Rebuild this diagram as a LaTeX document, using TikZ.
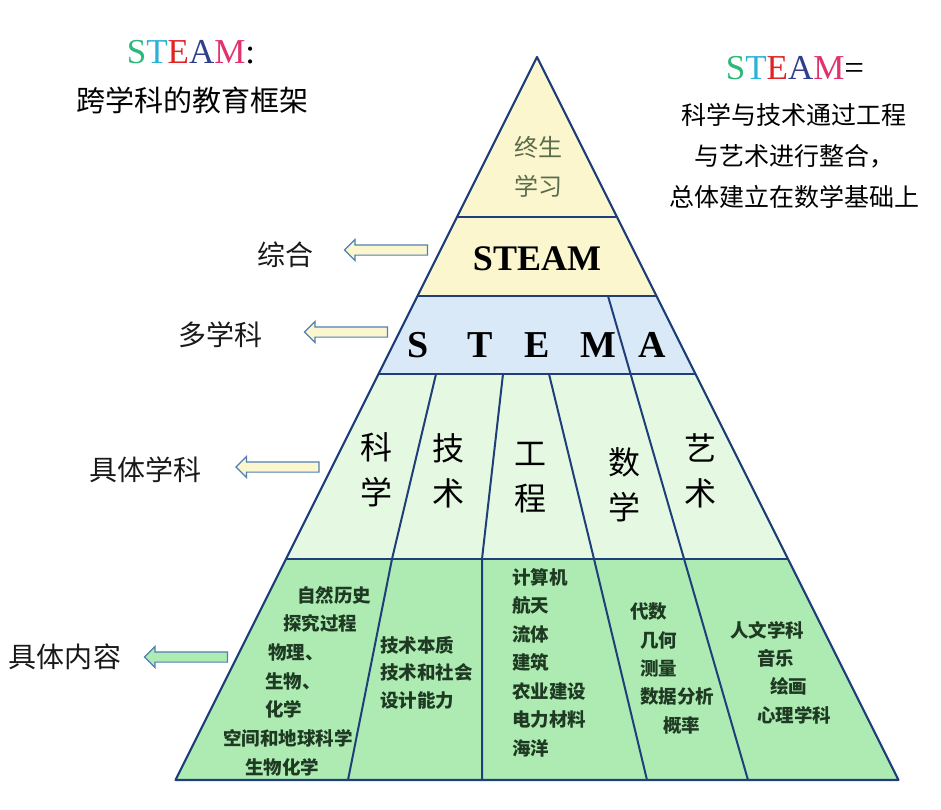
\documentclass[tikz,border=0pt]{standalone}
\usepackage{fontspec}
\setmainfont{Liberation Serif}
\newfontfamily\cjk{Noto Sans CJK SC}
\usetikzlibrary{positioning,shapes.arrows}
\definecolor{rim}{HTML}{1F3F7A}
\definecolor{cream}{HTML}{FBF6CE}
\definecolor{skyband}{HTML}{DAE9F8}
\definecolor{paleleaf}{HTML}{E5F8E1}
\definecolor{leaf}{HTML}{AEEBB3}
\definecolor{arrowrim}{HTML}{4F7FB5}
\definecolor{leaftext}{HTML}{1E3A22}
\definecolor{olivetext}{HTML}{5B6B4E}
\definecolor{cS}{HTML}{2DB87A}
\definecolor{cT}{HTML}{2BB3D6}
\definecolor{cE}{HTML}{E02424}
\definecolor{cA}{HTML}{2F3F8E}
\definecolor{cM}{HTML}{E2326E}
\newcommand{\steamword}{\textcolor{cS}{S}\textcolor{cT}{T}\textcolor{cE}{E}\textcolor{cA}{A}\textcolor{cM}{M}}
\tikzset{
    layer/.style={
           draw=rim,
           line width=2.2pt,
           line join=round},
    divide/.style={
           draw=rim,
           line width=2pt},
    pil/.style={
           single arrow,
           shape border rotate=180,
           draw=arrowrim,
           line width=1.2pt,
           minimum height=83pt,
           inner xsep=0pt,
           inner ysep=4.5pt,
           single arrow head extend=5.5pt},
    side/.style={
           font=\cjk\fontsize{28}{28}\selectfont,
           text=black!90},
    letter/.style={
           font=\bfseries\fontsize{38}{38}\selectfont},
    subj/.style={
           font=\cjk\fontsize{32}{45}\selectfont,
           align=center,
           inner sep=0pt},
    item/.style={
           anchor=west,
           inner sep=0pt,
           font=\cjk\bfseries\fontsize{18.5}{18.5}\selectfont,
           text=leaftext}
}

\begin{document}
\begin{tikzpicture}[x=1pt, y=-1pt]
        \useasboundingbox (0,0) rectangle (941,810);

        % pyramid layers
        \fill[cream] (537,57) -- (617,217) -- (457,217) -- cycle;
        \fill[cream] (457,217) -- (617,217) -- (656.5,296) -- (417.5,296) -- cycle;
        \fill[skyband] (417.5,296) -- (656.5,296) -- (695.5,374) -- (378.5,374) -- cycle;
        \fill[paleleaf] (378.5,374) -- (695.5,374) -- (788,559) -- (286,559) -- cycle;
        \fill[leaf] (286,559) -- (788,559) -- (898.5,780) -- (175.5,780) -- cycle;
        \draw[layer] (537,57) -- (898.5,780) -- (175.5,780) -- cycle;
        \draw[divide] (457,217) -- (617,217);
        \draw[divide] (417.5,296) -- (656.5,296);
        \draw[divide] (378.5,374) -- (695.5,374);
        \draw[divide] (286,559) -- (788,559);

        % column borders
        \draw[divide] (608,296) -- (748,780);
        \draw[divide] (436,374) -- (392,559) -- (348,780);
        \draw[divide] (503,374) -- (482,559) -- (482,780);
        \draw[divide] (549,374) -- (594,559) -- (647,780);

        % top
        \node[font=\cjk\fontsize{24}{39}\selectfont, text=olivetext, align=center] (life) at (538,167) {终生\\学习};
        \node[font=\bfseries\fontsize{36}{36}\selectfont] (steam) at (537,259) {STEAM};

        \node[letter] (ls) at (418,345) {S};
        \node[letter] (lt) at (480,345) {T};
        \node[letter] (le) at (537,345) {E};
        \node[letter] (lm) at (598,345) {M};
        \node[letter] (la) at (652,345) {A};

        \node[subj] (kx) at (376,470) {科\\学};
        \node[subj] (js) at (448,471) {技\\术};
        \node[subj] (gc) at (530,478) {工\\程};
        \node[subj] (sx) at (624,485) {数\\学};
        \node[subj] (ys) at (700,471) {艺\\术};

        % content
        \foreach \x/\t [count=\i] in {297/自然历史, 283/探究过程, 268/物理、, 265/生物、, 265/化学, 223/空间和地球科学, 245/生物化学}
            \node[item] (sci\i) at (\x,{595+(\i-1)*28.7}) {\t};
        \foreach \t [count=\i] in {技术本质, 技术和社会, 设计能力}
            \node[item] (tec\i) at (380,{645+(\i-1)*27.5}) {\t};
        \foreach \t [count=\i] in {计算机, 航天, 流体, 建筑, 农业建设, 电力材料, 海洋}
            \node[item] (eng\i) at (512,{577+(\i-1)*28.5}) {\t};
        \foreach \x/\t [count=\i] in {630/代数, 640/几何, 640/测量, 640/数据分析, 663/概率}
            \node[item] (mat\i) at (\x,{612+(\i-1)*28.3}) {\t};
        \foreach \x/\t [count=\i] in {730/人文学科, 757/音乐, 770/绘画, 757/心理学科}
            \node[item] (art\i) at (\x,{630+(\i-1)*28.4}) {\t};

        % left side
        \node[pil, fill=cream] (p1) at (388.5,250) {};
        \node[pil, fill=cream] (p2) at (348.5,332) {};
        \node[pil, fill=cream] (p3) at (280,467) {};
        \node[pil, fill=leaf] (p4) at (188.5,657) {};
        \node[side] (zh) at (285,255) {综合};
        \node[side] (dx) at (220,335) {多学科};
        \node[side] (jx) at (145,470) {具体学科};
        \node[side] (jn) at (65,657) {具体内容};

        % titles
        \node[font=\fontsize{35}{35}\selectfont] (tl) at (191,52) {\steamword:};
        \node[font=\cjk\fontsize{29}{29}\selectfont] (tl2) at (192,100) {跨学科的教育框架};
        \node[font=\fontsize{35}{35}\selectfont] (tr) at (795,68) {\steamword=};
        \node[font=\cjk\fontsize{25}{41}\selectfont, align=center] (tr2) at (794,156) {科学与技术通过工程\\与艺术进行整合，\\总体建立在数学基础上};
    \end{tikzpicture}
\end{document}
